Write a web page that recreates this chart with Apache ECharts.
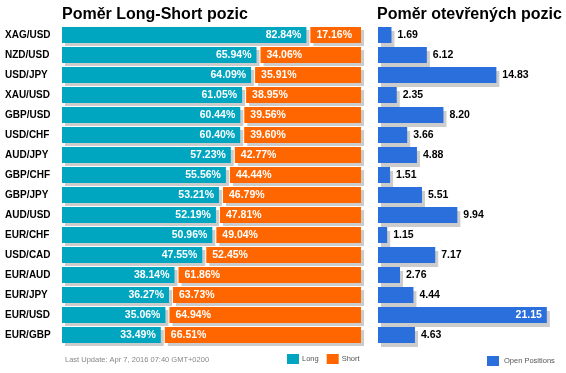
<!DOCTYPE html>
<html><head><meta charset="utf-8">
<script src="https://cdn.jsdelivr.net/npm/echarts@6/dist/echarts.min.js"></script>
<style>html,body{margin:0;padding:0;background:#fff}#c{width:566px;height:373px}</style>
</head><body><div id="c"></div>
<script>
const categories = ['XAG/USD','NZD/USD','USD/JPY','XAU/USD','GBP/USD','USD/CHF','AUD/JPY','GBP/CHF','GBP/JPY','AUD/USD','EUR/CHF','USD/CAD','EUR/AUD','EUR/JPY','EUR/USD','EUR/GBP'];
const longPct = [82.84,65.94,64.09,61.05,60.44,60.40,57.23,55.56,53.21,52.19,50.96,47.55,38.14,36.27,35.06,33.49];
const shortPct = [17.16,34.06,35.91,38.95,39.56,39.60,42.77,44.44,46.79,47.81,49.04,52.45,61.86,63.73,64.94,66.51];
const openPos = [1.69,6.12,14.83,2.35,8.20,3.66,4.88,1.51,5.51,9.94,1.15,7.17,2.76,4.44,21.15,4.63];
const titleLeft = 'Poměr Long-Short pozic';
const titleRight = 'Poměr otevřených pozic';
const updateText = 'Last Update: Apr 7, 2016 07:40 GMT+0200';

const GAP = 1.36;
const TEAL = '#00A6C0', ORANGE = '#FF6600', BLUE = '#2A6FDB', SHADOW = '#CCCCCC';
const FONT = 'Arial, "Liberation Sans", sans-serif';
const openMax = Math.max(...openPos);

const chart = echarts.init(document.getElementById('c'), null, {renderer: 'canvas'});
const lblStyle = {fontFamily: FONT, fontWeight: 'bold', fontSize: 10.5};
chart.setOption({
  animation: false,
  title: [
    {text: titleLeft, left: 57, top: 2, textStyle: {fontFamily: FONT, fontWeight: 'bold', fontSize: 16, color: '#000'}},
    {text: titleRight, left: 372, top: 2, textStyle: {fontFamily: FONT, fontWeight: 'bold', fontSize: 16, color: '#000'}},
    {text: updateText, left: 60, top: 351, textStyle: {fontFamily: FONT, fontWeight: 'normal', fontSize: 7.5, color: '#888'}}
  ],
  legend: [
    {data: ['Long','Short'], left: 282, top: 349, itemWidth: 12, itemHeight: 10, itemGap: 8, icon: 'rect',
     textStyle: {fontFamily: FONT, fontSize: 7.5, color: '#555', padding: [0,0,0,-2]}},
    {data: ['Open Positions'], left: 482, top: 351, itemWidth: 12, itemHeight: 10, icon: 'rect',
     textStyle: {fontFamily: FONT, fontSize: 7.5, color: '#555'}}
  ],
  grid: [
    {left: 62, right: 205, top: 25, height: 320},
    {left: 378, right: 12.4, top: 25, height: 320}
  ],
  xAxis: [
    {gridIndex: 0, type: 'value', min: 0, max: 100 + GAP, show: false},
    {gridIndex: 1, type: 'value', min: 0, max: 22, show: false}
  ],
  yAxis: [
    {gridIndex: 0, type: 'category', data: categories, inverse: true,
     axisLine: {show: false}, axisTick: {show: false}, splitLine: {show: false},
     axisLabel: {align: 'left', margin: 57, fontFamily: FONT, fontWeight: 'bold', fontSize: 10, color: '#000'}},
    {gridIndex: 1, type: 'category', data: categories, inverse: true, show: false}
  ],
  series: [
    {name: 'Long', type: 'bar', stack: 'ls', xAxisIndex: 0, yAxisIndex: 0, data: longPct, barWidth: 16,
     itemStyle: {color: TEAL, shadowColor: SHADOW, shadowOffsetX: 3, shadowOffsetY: 3, shadowBlur: 0},
     label: Object.assign({show: true, position: 'insideRight', distance: 5, color: '#fff',
       formatter: p => p.value.toFixed(2) + '%'}, lblStyle)},
    {name: 'gap', type: 'bar', stack: 'ls', xAxisIndex: 0, yAxisIndex: 0, data: categories.map(() => GAP),
     barWidth: 16, silent: true, itemStyle: {color: 'rgba(0,0,0,0)'}},
    {name: 'Short', type: 'bar', stack: 'ls', xAxisIndex: 0, yAxisIndex: 0, data: shortPct, barWidth: 16,
     itemStyle: {color: ORANGE, shadowColor: SHADOW, shadowOffsetX: 3, shadowOffsetY: 3, shadowBlur: 0},
     label: Object.assign({show: true, position: 'insideLeft', distance: 6, color: '#fff',
       formatter: p => p.value.toFixed(2) + '%'}, lblStyle)},
    {name: 'Open Positions', type: 'bar', xAxisIndex: 1, yAxisIndex: 1, barWidth: 16,
     data: openPos.map(v => v > openMax * 0.85
        ? {value: v, label: {position: 'insideRight', distance: 5, color: '#fff'}}
        : {value: v}),
     itemStyle: {color: BLUE, shadowColor: SHADOW, shadowOffsetX: 3, shadowOffsetY: 4, shadowBlur: 0},
     label: Object.assign({show: true, position: 'right', distance: 6, color: '#000',
       formatter: p => p.value.toFixed(2)}, lblStyle)}
  ]
});
</script></body></html>
